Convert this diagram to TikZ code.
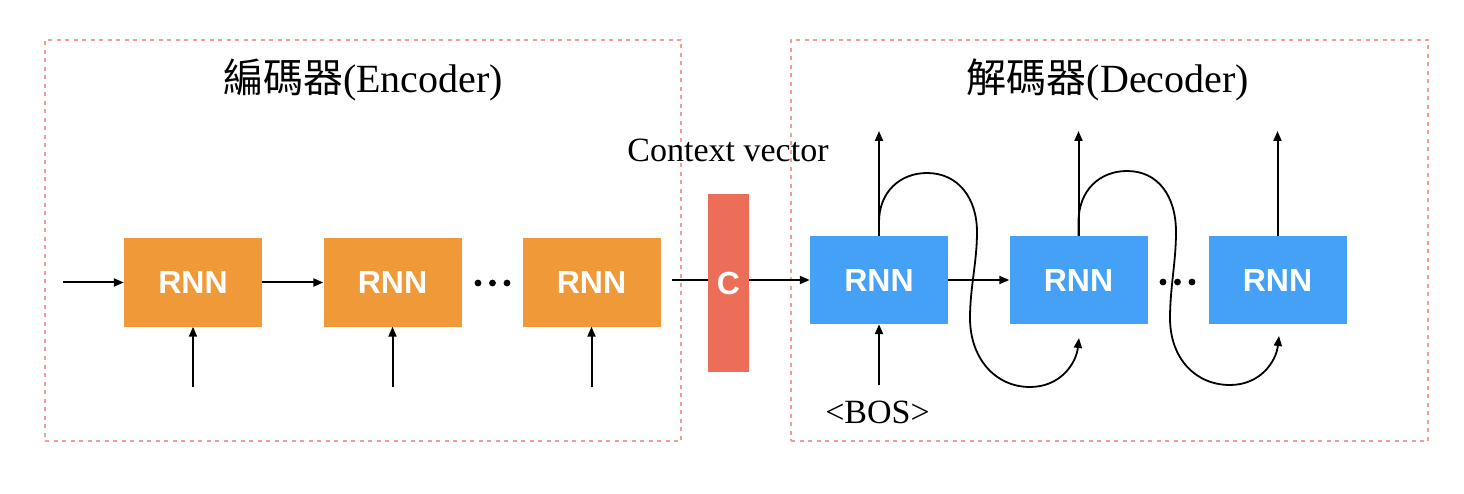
\documentclass[tikz,border=0pt]{standalone}
\usepackage{fontspec}
\setmainfont{Liberation Serif}
\newfontfamily\cjk{Noto Sans CJK TC}
\newfontfamily\hel{Liberation Sans}
\usetikzlibrary{arrows.meta}
\definecolor{dashred}{RGB}{242,158,148}
\definecolor{encorange}{RGB}{240,153,56}
\definecolor{ctxred}{RGB}{237,110,88}
\definecolor{decblue}{RGB}{68,161,245}
\begin{document}
\begin{tikzpicture}[x=1pt,y=-1pt,
  rnnbox/.style={minimum width=138pt,minimum height=88pt,inner sep=0pt,text=white,font=\hel\bfseries\fontsize{32}{36}\selectfont},
  enc/.style={rnnbox,fill=encorange},
  dec/.style={rnnbox,fill=decblue},
  ctx/.style={fill=ctxred,minimum width=41pt,minimum height=178pt,inner sep=0pt,text=white,font=\hel\bfseries\fontsize{32}{36}\selectfont},
  arr/.style={line width=2pt,-{Triangle[length=10pt,width=8pt]}},
  plainline/.style={line width=2pt},
  carr/.style={line width=1.8pt,-{Triangle[length=10pt,width=8pt]}},
  frame/.style={draw=dashred,line width=1.6pt,dash pattern=on 4pt off 4.5pt,inner sep=0pt},
  title/.style={anchor=base,font=\fontsize{40}{48}\selectfont,inner sep=0pt},
  label/.style={anchor=base,font=\fontsize{34}{40}\selectfont,inner sep=0pt},
]
\useasboundingbox (0,0) rectangle (1464,494);
% frames
\node[frame,minimum width=636pt,minimum height=401pt] (encframe) at (363,240.5) {};
\node[frame,minimum width=637pt,minimum height=401pt] (decframe) at (1109.5,240.5) {};
% titles
\node[title] (enct) at (363,93) {{\cjk 編碼器}(Encoder)};
\node[title] (dect) at (1108,93) {{\cjk 解碼器}(Decoder)};
\node[label] (ctxt) at (728,162) {Context vector};
\node[label] (bos) at (877.5,423) {<BOS>};
% encoder
\node[enc] (e1) at (193,282.5) {RNN};
\node[enc] (e2) at (392.5,282.5) {RNN};
\node[enc] (e3) at (591.5,282.5) {RNN};
\coordinate (ein) at (63,282.5);
\coordinate (i1) at (193,387);
\coordinate (i2) at (392.5,387);
\coordinate (i3) at (591.5,387);
\draw[arr] (ein) -- (e1.west);
\draw[arr] (e1.east) -- (e2.west);
\draw[arr] (i1) -- (e1.south);
\draw[arr] (i2) -- (e2.south);
\draw[arr] (i3) -- (e3.south);
\fill (478,283) circle (3.4) (492.5,283) circle (3.4) (507,283) circle (3.4);
% context
\node[ctx] (c) at (728.5,283) {C};
\coordinate (cin) at (672,280);
\draw[plainline] (cin) -- (cin -| c.west);
% decoder
\node[dec] (d1) at (879,280) {RNN};
\node[dec] (d2) at (1078.5,280) {RNN};
\node[dec] (d3) at (1277.5,280) {RNN};
\draw[arr] (c.east |- d1.west) -- (d1.west);
\draw[arr] (d1.east) -- (d2.west);
\coordinate (bosin) at (879,385);
\draw[arr] (bosin) -- (d1.south);
\coordinate (o1) at (879,131);
\coordinate (o2) at (1078.5,131);
\coordinate (o3) at (1277.5,131);
\draw[arr] (d1.north) -- (o1);
\draw[arr] (d2.north) -- (o2);
\draw[arr] (d3.north) -- (o3);
\coordinate (l2) at (1079,338);
\coordinate (l3) at (1279,336);
\draw[carr] (d1.north) -- (879,222) .. controls (879,192) and (900,173) .. (927,173)
  .. controls (958,173) and (977,198) .. (977,232)
  .. controls (977,262) and (970,288) .. (970,318)
  .. controls (970,358) and (995,387) .. (1030,387)
  .. controls (1060,387) and (1076,364) .. (l2);
\draw[carr] (d2.north) -- (1078.5,222) .. controls (1078.5,190) and (1100,171) .. (1127,171)
  .. controls (1158,171) and (1176,196) .. (1176,232)
  .. controls (1176,262) and (1170,288) .. (1170,318)
  .. controls (1170,358) and (1195,385) .. (1230,385)
  .. controls (1260,385) and (1276,362) .. (l3);
\fill (1163,282) circle (3.4) (1177.5,282) circle (3.4) (1192,282) circle (3.4);
\end{tikzpicture}
\end{document}
